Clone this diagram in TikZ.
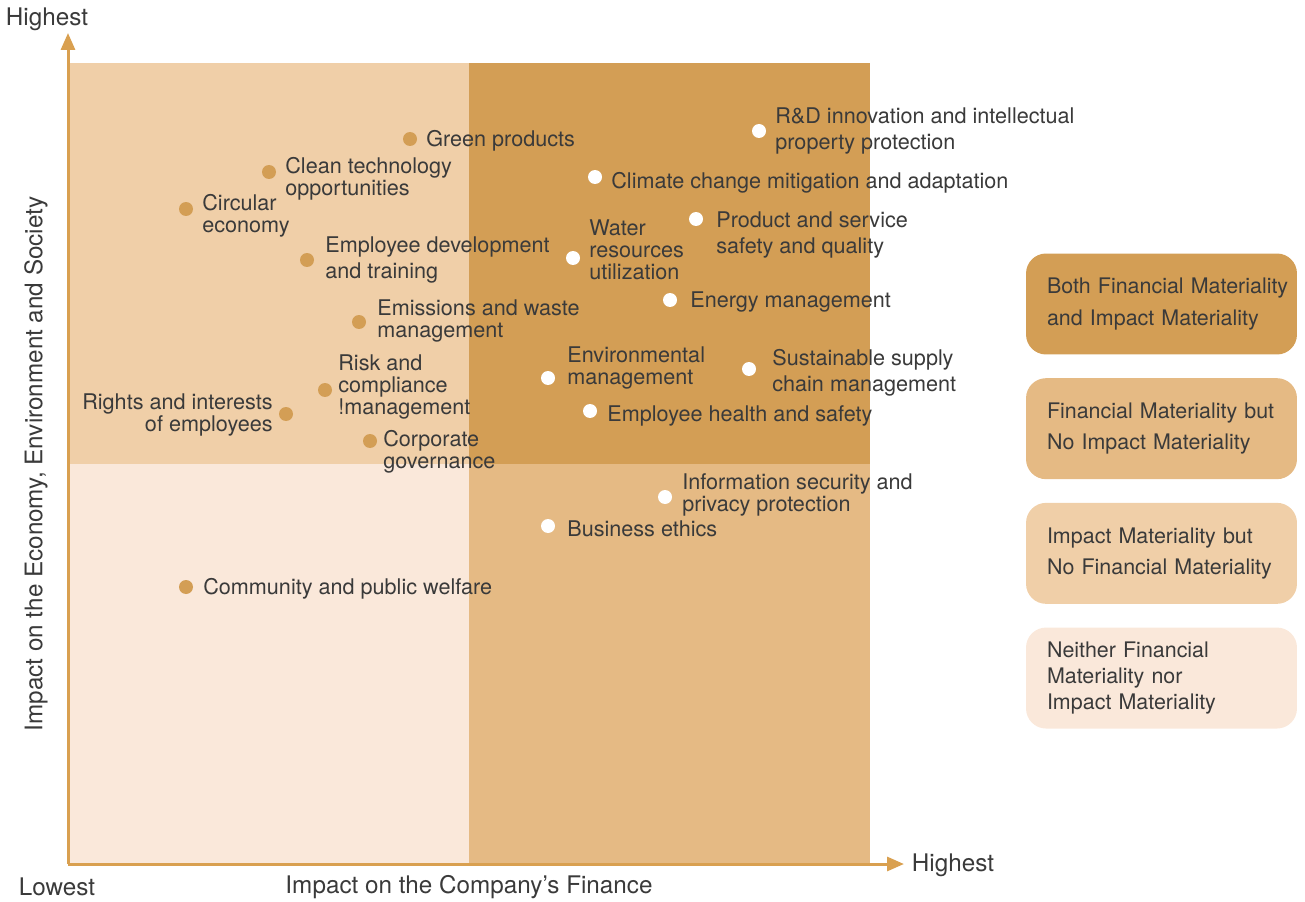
\documentclass[tikz,border=0pt]{standalone}
\usepackage{fontspec}
\setmainfont{TeX Gyre Heros}
\usetikzlibrary{arrows.meta,positioning}
\definecolor{qboth}{HTML}{D39E55}
\definecolor{qfin}{HTML}{E5BA84}
\definecolor{qimp}{HTML}{F0CFA8}
\definecolor{qnone}{HTML}{FAE8DA}
\definecolor{axiscol}{HTML}{D9A050}
\definecolor{txt}{HTML}{3A3A3A}
\tikzset{
	topic/.style={anchor=west,align=left,text=txt,font=\fontsize{12.3}{12.5}\selectfont,inner sep=0pt,yshift=-0.04cm},
	wide/.style={font=\fontsize{12.3}{14.8}\selectfont},
	dotin/.style={circle,fill=qboth,inner sep=0pt,minimum size=0.28cm},
	dotout/.style={circle,fill=white,inner sep=0pt,minimum size=0.28cm},
	legend/.style={rounded corners=0.4cm,minimum width=5.42cm,minimum height=2.02cm,inner xsep=0.42cm,text width=4.58cm,align=left,text=txt,font=\fontsize{12.2}{18}\selectfont}
}
\begin{document}
\begin{tikzpicture}[x=0.02cm,y=-0.02cm]
\useasboundingbox (0,0) rectangle (1305,902);
% quadrants
\fill[qimp] (68,63) rectangle (469,464);
\fill[qboth] (469,63) rectangle (870,464);
\fill[qnone] (68,464) rectangle (469,864);
\fill[qfin] (469,464) rectangle (870,864);

\begin{scope}[every node/.style={text=txt,font=\fontsize{13.8}{15}\selectfont}]
	\node (origin) at (68,864) {};
	\coordinate (ytop) at (68,33);
	\coordinate (xend) at (904,864);
	\node (yhigh) at (47,19) {Highest};
	\node (xhigh) at (953,865) {Highest};
	\node (low) at (57,887) {Lowest};
	\node (xlabel) at (469,887) {Impact on the Company’s Finance};
	\node[rotate=90] (ylabel) at (36,464) {Impact on the Economy, Environment and Society};
\end{scope}

\begin{scope}
	\draw[axiscol,line width=0.06cm,-{Triangle[length=0.34cm,width=0.28cm]}] (origin.center) -- (ytop);
	\draw[axiscol,line width=0.06cm,-{Triangle[length=0.34cm,width=0.28cm]}] (origin.center) -- (xend);
\end{scope}

% impact only / both
\node[dotin] (gp) at (410,139) {};
\node[topic] (gpt) at (426,139) {Green products};
\node[dotin] (ct) at (269,172) {};
\node[topic] (ctt) at (285,177) {Clean technology\\opportunities};
\node[dotin] (ce) at (186,209) {};
\node[topic] (cet) at (202,214) {Circular\\economy};
\node[dotin] (ed) at (307,260) {};
\node[topic,wide] (edt) at (325,258) {Employee development\\and training};
\node[dotin] (ew) at (359,322) {};
\node[topic] (ewt) at (377,319) {Emissions and waste\\management};
\node[dotin] (rc) at (325,390) {};
\node[topic] (rct) at (338,385) {Risk and\\compliance\\!management};
\node[dotin] (re) at (286,414) {};
\node[topic,anchor=east,align=right] (ret) at (273,413) {Rights and interests\\of employees};
\node[dotin] (cg) at (370,441) {};
\node[topic] (cgt) at (383,450) {Corporate\\governance};
\node[dotin] (cp) at (186,587) {};
\node[topic] (cpt) at (203,587) {Community and public welfare};

% financial
\node[dotout] (rd) at (759,131) {};
\node[topic,wide] (rdt) at (775,129) {R\&D innovation and intellectual\\property protection};
\node[dotout] (cc) at (595,177) {};
\node[topic] (cct) at (611,181) {Climate change mitigation and adaptation};
\node[dotout] (wr) at (573,258) {};
\node[topic] (wrt) at (589,248) {Water\\resources\\utilization};
\node[dotout] (ps) at (696,219) {};
\node[topic,wide] (pst) at (716,233) {Product and service\\safety and quality};
\node[dotout] (em) at (670,300) {};
\node[topic] (emt) at (690,300) {Energy management};
\node[dotout] (env) at (548,378) {};
\node[topic] (envt) at (567,366) {Environmental\\management};
\node[dotout] (sc) at (749,369) {};
\node[topic,wide] (sct) at (772,371) {Sustainable supply\\chain management};
\node[dotout] (eh) at (590,411) {};
\node[topic] (eht) at (607,414) {Employee health and safety};
\node[dotout] (is) at (665,497) {};
\node[topic] (ist) at (682,493) {Information security and\\privacy protection};
\node[dotout] (be) at (548,526) {};
\node[topic] (bet) at (567,527) {Business ethics};

% legend
\node[legend,fill=qboth] (lboth) at (1161.5,304) {\mbox{Both Financial Materiality}\\\mbox{and Impact Materiality}};
\node[legend,fill=qfin,below=0.46cm of lboth] (lfin) {\mbox{Financial Materiality but}\\\mbox{No Impact Materiality}};
\node[legend,fill=qimp,below=0.46cm of lfin] (limp) {\mbox{Impact Materiality but}\\\mbox{No Financial Materiality}};
\node[legend,fill=qnone,below=0.46cm of limp,font=\fontsize{12.2}{15}\selectfont] (lnone) {Neither Financial\\Materiality nor\\Impact Materiality};
\end{tikzpicture}
\end{document}
